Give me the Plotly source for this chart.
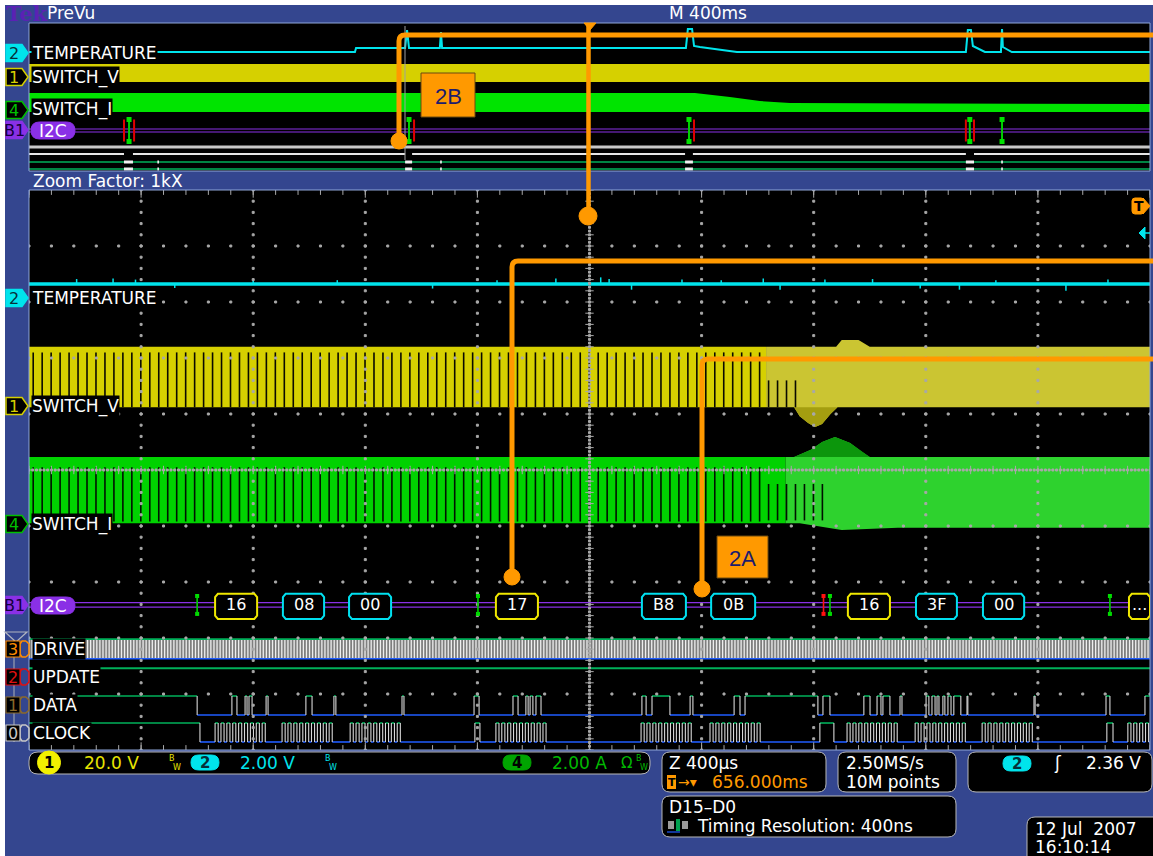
import plotly.graph_objects as go

W, H = 1153, 856
FONT = "DejaVu Sans"
BLUE = "#34468f"
ORANGE = "#ff9900"
CYAN = "#00e4ec"
YELLOW = "#d6d000"
YELLOW_DIM = "#cbc532"
GREEN = "#00d200"
GREEN_DIM = "#2ed22e"
PURPLE = "#8a30e6"
DIG_HI = "#00b05a"
DIG_LO = "#1f5cff"
EDGE = "#d8d8d8"
GRID = "#a8a8a8"

# ---------------- zoomed window: time in us about the zoom centre, level in graticule divisions
TEMP_LEVEL = 8.32
TEMP_SPIKE_US = [-1830, -1700, -1620, -1480, -1200, -900, -560, -330, -120, 40, 70, 150, 330, 470, 620, 680, 840, 1010, 1180, 1320, 1450, 1700, 1850]
TEMP_SPIKE_DIV = [0.09, 0.1, 0.08, -0.07, 0.08, 0.07, -0.08, 0.07, 0.1, 0.12, 0.09, -0.1, 0.08, 0.07, 0.1, -0.1, 0.08, 0.09, -0.08, -0.1, 0.07, -0.12, 0.08]

SV_SPLIT_US = 630
SV_TOP_T = [-2000, 630, 880, 900, 960, 1000, 2000]
SV_TOP = [7.2, 7.2, 7.2, 7.32, 7.32, 7.2, 7.2]
SV_BOT_T = [-2000, 630, 730, 750, 780, 805, 830, 860, 885, 2000]
SV_BOT = [6.12, 6.12, 6.12, 5.96, 5.84, 5.77, 5.82, 6.0, 6.12, 6.12]

SI_SPLIT_US = 700
SI_TOP_T = [-2000, 700, 730, 790, 830, 876, 930, 973, 1000, 2000]
SI_TOP = [5.23, 5.23, 5.23, 5.36, 5.5, 5.59, 5.48, 5.32, 5.23, 5.23]
SI_BOT_T = [-2000, 700, 750, 900, 1100, 2000]
SI_BOT = [4.05, 4.05, 4.05, 3.93, 3.97, 3.97]

SWITCH_PERIOD_US = 32.0
GAP_FULL_END_US = 620
SV_GAP_PART_END_US = 745
SI_GAP_PART_END_US = 860

I2C_LEVEL = 2.59
I2C_BYTES = ["16", "08", "00", "17", "B8", "0B", "16", "3F", "00", "..."]
I2C_BYTE_START_US = [-1336, -1094, -858, -334, 187, 434, 922, 1165, 1404, 1925]
I2C_BYTE_END_US = [-1186, -947, -708, -184, 344, 591, 1072, 1311, 1551, 2000]
I2C_IS_ADDRESS = [True, False, False, True, False, False, True, False, False, True]
I2C_START_US = [-1400, -398, 858, 1857]
I2C_STOP_US = [835]

DRIVE_LO, DRIVE_HI = 1.63, 1.98
DRIVE_HALF_PERIOD_US = 11.0
UPDATE_LEVEL = 1.46
DATA_LO, DATA_HI = 0.625, 0.964
CLOCK_LO, CLOCK_HI = 0.143, 0.482

DATA_RISE_US = [-2000, -1276, -1229, -1215, -1154, -1012, -912, -669, -412, -273, -227, -212, -191, 187, 223, 359, 516, 555, 833, 979, 1026, 1047, 1108, 1201, 1222, 1240, 1261, 1279, 1300, 1347, 1586, 1843, 1982]
DATA_FALL_US = [-1400, -1258, -1222, -1204, -1147, -990, -905, -662, -394, -255, -219, -202, -173, 202, 287, 369, 537, 815, 858, 1001, 1040, 1072, 1115, 1211, 1233, 1247, 1268, 1290, 1325, 1350, 1590, 1857, 2000]

CLOCK_BURST_US = [-1336, -1097, -854, -334, 184, 430, 919, 1162, 1401, 1921]
CLOCK_BITS = 9
CLOCK_PERIOD_US = 21
CLOCK_WIDTH_US = 11
CLOCK_SINGLE_RISE_US = [-2000, -409, 822, 1846]
CLOCK_SINGLE_FALL_US = [-1390, -391, 872, 1868]

# ---------------- record overview (PreVu): time in ms, level in rows above the window floor
PV_TEMP_MS = [0, 1163, 1167, 1342, 1349, 1356, 1466, 1470, 1474, 2344, 2351, 2366, 2373, 2394, 2526, 3343, 3350, 3361, 3368, 3411, 3468, 3472, 3475, 3507, 4000]
PV_TEMP = [119, 119, 123, 123, 141, 123, 123, 139, 123, 123, 142, 142, 125, 124, 119, 119, 141, 141, 125, 119, 119, 142, 124, 119, 119]
PV_SV_TOP, PV_SV_BOT = 107, 89
PV_SI_TOP_MS = [0, 2376, 2501, 2608, 2715, 4000]
PV_SI_TOP = [78, 78, 74, 70, 68, 67]
PV_SI_BOT = 59
PV_I2C_LEVEL = 40.5
PV_I2C_START_MS = [357, 1356, 2355, 3357, 3472]
PV_I2C_STOP_MS = [339, 375, 1374, 2373, 3343, 3372]
PV_PACKET_START_MS = [339, 1342, 2341, 3343]
PV_PACKET_END_MS = [371, 1367, 2369, 3372]
PV_BLIP_MS = [461, 1470, 3472]
PV_DRIVE, PV_UPDATE, PV_DATA, PV_CLOCK = 24, 17, 9, 2

fig = go.Figure()


def line(x, y, color, width, xa="x", ya="y"):
    fig.add_trace(go.Scatter(x=x, y=y, mode="lines", line=dict(color=color, width=width),
                             xaxis=xa, yaxis=ya, hoverinfo="skip"))


def area(x, y, color, xa="x", ya="y"):
    fig.add_trace(go.Scatter(x=x, y=y, mode="lines", fill="toself", fillcolor=color,
                             line=dict(width=0, color=color), xaxis=xa, yaxis=ya, hoverinfo="skip"))


def dots(x, y, symbol="square", size=2, width=1, color=GRID):
    fig.add_trace(go.Scatter(x=x, y=y, mode="markers", hoverinfo="skip",
                             marker=dict(symbol=symbol, size=size, color=color,
                                         line=dict(width=width, color=color))))


def band(t_top, top, t_bot, bot, lo, hi):
    """Polygon of an envelope restricted to lo <= t <= hi."""
    xs = [t for t in t_top if lo <= t <= hi]
    ys = [v for t, v in zip(t_top, top) if lo <= t <= hi]
    xb = [t for t in t_bot if lo <= t <= hi]
    yb = [v for t, v in zip(t_bot, bot) if lo <= t <= hi]
    return xs + xb[::-1] + [xs[0]], ys + yb[::-1] + [ys[0]]


def digital(rises, falls, lo, hi, t0=-2000, t1=2000):
    gx, gy, bx, by, ex, ey = [], [], [], [], [], []
    cur = t0
    for a, b in sorted(zip(rises, falls)):
        a, b = max(a, t0), min(b, t1)
        if a > cur:
            bx += [cur, a, None]; by += [lo, lo, None]
        gx += [a, b, None]; gy += [hi, hi, None]
        if a > t0:
            ex += [a, a, None]; ey += [lo, hi, None]
        if b < t1:
            ex += [b, b, None]; ey += [lo, hi, None]
        cur = b
    if cur < t1:
        bx += [cur, t1, None]; by += [lo, lo, None]
    line(bx, by, DIG_LO, 1.6)
    line(gx, gy, DIG_HI, 1.6)
    line(ex, ey, EDGE, 1.1)


# ================= overview window =================
line(PV_TEMP_MS, PV_TEMP, CYAN, 2, "x2", "y2")
area([0, 4000, 4000, 0, 0], [PV_SV_TOP, PV_SV_TOP, PV_SV_BOT, PV_SV_BOT, PV_SV_TOP], YELLOW, "x2", "y2")
area(PV_SI_TOP_MS + [4000, 0, 0], PV_SI_TOP + [PV_SI_BOT, PV_SI_BOT, PV_SI_TOP[0]], "#00e400", "x2", "y2")
line([0, 4000, None, 0, 4000], [PV_I2C_LEVEL + 1.5, PV_I2C_LEVEL + 1.5, None, PV_I2C_LEVEL - 1.5, PV_I2C_LEVEL - 1.5], PURPLE, 1.2, "x2", "y2")
sx, sy = [], []
for t in PV_I2C_START_MS:
    sx += [t, t, None]; sy += [PV_I2C_LEVEL - 11, PV_I2C_LEVEL + 11, None]
line(sx, sy, "#00d000", 2, "x2", "y2")
rx, ry = [], []
for t in PV_I2C_STOP_MS:
    rx += [t, t, None]; ry += [PV_I2C_LEVEL - 11, PV_I2C_LEVEL + 11, None]
line(rx, ry, "#e00000", 2, "x2", "y2")
fig.add_trace(go.Scatter(x=[t for t in PV_I2C_START_MS for _ in (0, 1)],
                         y=[PV_I2C_LEVEL + s for _ in PV_I2C_START_MS for s in (-11, 11)],
                         mode="markers", xaxis="x2", yaxis="y2", hoverinfo="skip",
                         marker=dict(symbol="square", size=5, color="#00e000")))
line([0, 4000], [PV_DRIVE, PV_DRIVE], "#c8c8c8", 3, "x2", "y2")
ux, uy = [], []
cur = 0
for a, b in zip(PV_PACKET_START_MS, PV_PACKET_END_MS):
    ux += [cur, a, None]; uy += [PV_UPDATE, PV_UPDATE, None]
    cur = b
ux += [cur, 4000]; uy += [PV_UPDATE, PV_UPDATE]
line(ux, uy, "#e6e6e6", 2, "x2", "y2")
line([0, 4000], [PV_DATA, PV_DATA], DIG_HI, 1.6, "x2", "y2")
line([0, 4000], [PV_CLOCK, PV_CLOCK], DIG_HI, 1.6, "x2", "y2")
wx, wy = [], []
for a, b in zip(PV_PACKET_START_MS, PV_PACKET_END_MS):
    for lvl in (PV_DATA, PV_CLOCK):
        wx += [a, b, None]; wy += [lvl, lvl, None]
for t in PV_BLIP_MS:
    for lvl in (PV_DATA, PV_CLOCK):
        wx += [t - 3, t + 3, None]; wy += [lvl, lvl, None]
line(wx, wy, "#f0f0f0", 3, "x2", "y2")

# ================= zoomed window =================
# temperature (channel 2)
line([-2000, 2000], [TEMP_LEVEL, TEMP_LEVEL], CYAN, 3.5)
kx, ky = [], []
for t, d in zip(TEMP_SPIKE_US, TEMP_SPIKE_DIV):
    kx += [t, t, None]; ky += [TEMP_LEVEL, TEMP_LEVEL + d, None]
line(kx, ky, CYAN, 1.5)

# switch voltage (channel 1)
x, y = band(SV_TOP_T, SV_TOP, SV_BOT_T, SV_BOT, -2000, SV_SPLIT_US)
area(x, y, YELLOW)
x, y = band(SV_TOP_T, SV_TOP, SV_BOT_T, SV_BOT, SV_SPLIT_US, 2000)
area(x, y, YELLOW_DIM)
dip_t = [t for t, v in zip(SV_BOT_T, SV_BOT) if 730 <= t <= 885]
dip_v = [v for t, v in zip(SV_BOT_T, SV_BOT) if 730 <= t <= 885]
area(dip_t + dip_t[::-1], dip_v + [SV_BOT[0]] * len(dip_t), "#a49e10")

# switch current (channel 4)
x, y = band(SI_TOP_T, SI_TOP, SI_BOT_T, SI_BOT, -2000, SI_SPLIT_US)
area(x, y, GREEN)
x, y = band(SI_TOP_T, SI_TOP, SI_BOT_T, SI_BOT, SI_SPLIT_US, 2000)
area(x, y, GREEN_DIM)
bump_t = [t for t, v in zip(SI_TOP_T, SI_TOP) if 730 <= t <= 1000]
bump_v = [v for t, v in zip(SI_TOP_T, SI_TOP) if 730 <= t <= 1000]
area(bump_t + bump_t[::-1], bump_v + [SI_TOP[0]] * len(bump_t), "#0c960c")

# switching notches
gvx, gvy, gix, giy = [], [], [], []
t = -1985.0
while t <= SI_GAP_PART_END_US:
    if t <= GAP_FULL_END_US:
        gvx += [t, t, None]; gvy += [SV_BOT[0], SV_TOP[0] - 0.1, None]
        gix += [t, t, None]; giy += [SI_BOT[0] + 0.03, SI_TOP[0] - 0.18, None]
    else:
        if t <= SV_GAP_PART_END_US:
            gvx += [t, t, None]; gvy += [SV_BOT[0], 6.6, None]
        gix += [t, t, None]; giy += [SI_BOT[0] + 0.05, 4.75, None]
    t += SWITCH_PERIOD_US
line(gvx, gvy, "#0a0a00", 1.6)
line(gix, giy, "#001200", 1.6)

# I2C bus decode (B1)
line([-2000, 2000, None, -2000, 2000], [I2C_LEVEL + 0.04, I2C_LEVEL + 0.04, None, I2C_LEVEL - 0.04, I2C_LEVEL - 0.04], PURPLE, 1.3)

# digital channels
dx, dy = [], []
t = -2000.0
while t < 2000:
    dx += [t, t, None]; dy += [DRIVE_LO, DRIVE_HI, None]
    t += DRIVE_HALF_PERIOD_US
area([-2000, 2000, 2000, -2000, -2000], [DRIVE_LO, DRIVE_LO, DRIVE_HI, DRIVE_HI, DRIVE_LO], "#7e7e7e")
line(dx, dy, "#eeeeee", 1.3)
line([-2000, 2000], [DRIVE_HI, DRIVE_HI], DIG_HI, 1.6)
line([-2000, 2000], [DRIVE_LO, DRIVE_LO], DIG_LO, 1.6)
line([-2000, 2000], [UPDATE_LEVEL, UPDATE_LEVEL], DIG_HI, 1.8)
digital(DATA_RISE_US, DATA_FALL_US, DATA_LO, DATA_HI)
c_r, c_f = list(CLOCK_SINGLE_RISE_US), list(CLOCK_SINGLE_FALL_US)
for b in CLOCK_BURST_US:
    for k in range(CLOCK_BITS):
        c_r.append(b + k * CLOCK_PERIOD_US)
        c_f.append(b + k * CLOCK_PERIOD_US + CLOCK_WIDTH_US)
digital(c_r, c_f, CLOCK_LO, CLOCK_HI)

# graticule (drawn over the traces, as on the instrument)
gx, gy = [], []
for k in range(1, 10):
    if k == 5:
        continue
    for j in range(51):
        gx.append((k - 5) * 400); gy.append(j * 0.2)
for m in range(1, 10):
    if m == 5:
        continue
    for i in range(51):
        gx.append((i * 0.2 - 5) * 400); gy.append(m)
for j in range(151):
    gx.append(0); gy.append(j / 15)
for i in range(301):
    gx.append((i / 30 - 5) * 400); gy.append(5)
dots(gx, gy)
dots([0] * 51, [j * 0.2 for j in range(51)], symbol="line-ew", size=6)
dots([(i * 0.2 - 5) * 400 for i in range(51)], [5] * 51, symbol="line-ns", size=6)
dots([(i * 0.2 - 5) * 400 for i in range(51)] * 2, [10] * 51 + [0] * 51, symbol="line-ns", size=7)
dots([(k - 5) * 400 for k in range(11)] * 2, [10] * 11 + [0] * 11, symbol="line-ns", size=11)

# ================= layout, shapes and text =================
shapes, ann = [], []


def P(xp, yp):
    return f"{xp / W:.5f},{1 - yp / H:.5f}"


def rrect(x0, y0, x1, y1, r, fill="black", edge="#b8b8b8", width=1):
    path = (f"M {P(x0 + r, y0)} L {P(x1 - r, y0)} Q {P(x1, y0)} {P(x1, y0 + r)} "
            f"L {P(x1, y1 - r)} Q {P(x1, y1)} {P(x1 - r, y1)} L {P(x0 + r, y1)} "
            f"Q {P(x0, y1)} {P(x0, y1 - r)} L {P(x0, y0 + r)} Q {P(x0, y0)} {P(x0 + r, y0)} Z")
    shapes.append(dict(type="path", path=path, xref="paper", yref="paper", fillcolor=fill,
                       line=dict(color=edge, width=width), layer="above"))


def prect(x0, y0, x1, y1, fill, edge=None, width=0, layer="above"):
    shapes.append(dict(type="rect", xref="paper", yref="paper", x0=x0 / W, x1=x1 / W,
                       y0=1 - y1 / H, y1=1 - y0 / H, fillcolor=fill,
                       line=dict(color=edge or fill, width=width), layer=layer))


def pline(pts, color, width):
    path = "M " + " L ".join(P(a, b) for a, b in pts)
    shapes.append(dict(type="path", path=path, xref="paper", yref="paper",
                       line=dict(color=color, width=width), layer="above"))


def pcircle(cx, cy, r, fill, edge=None):
    shapes.append(dict(type="circle", xref="paper", yref="paper", x0=(cx - r) / W, x1=(cx + r) / W,
                       y0=1 - (cy + r) / H, y1=1 - (cy - r) / H, fillcolor=fill,
                       line=dict(color=edge or fill, width=1), layer="above"))


def ppoly(pts, fill, edge=None, width=1):
    path = "M " + " L ".join(P(a, b) for a, b in pts) + " Z"
    shapes.append(dict(type="path", path=path, xref="paper", yref="paper", fillcolor=fill,
                       line=dict(color=edge or fill, width=width), layer="above"))


def text(xp, yp, s, color="white", size=17, anchor="left", bg=None, family=FONT):
    a = dict(x=xp / W, y=1 - yp / H, xref="paper", yref="paper", text=s, showarrow=False,
             xanchor=anchor, yanchor="middle", font=dict(color=color, size=size, family=family))
    if bg:
        a.update(bgcolor=bg, borderpad=0)
    ann.append(a)


# white frame edge and window borders
prect(0, 0, W, 5, "white", layer="below")
prect(0, 0, 5, H, "white", layer="below")
prect(29, 23, 1150, 171, "rgba(0,0,0,0)", "#8fa6d8", 1)
prect(29, 190, 1150, 750, "rgba(0,0,0,0)", "#8fa6d8", 1)

# title strip
text(4, 14, "<b>Tek</b>", "#5a22b4", 21, family="DejaVu Serif")
text(45, 13, "PreVu", "white", 17)
text(667, 13, "M 400ms", "white", 17)
text(31, 181, "Zoom Factor: 1kX", "white", 17)

# channel tags on the left edge
def tag(yc, label, fill, fg, edge, h=17):
    ppoly([(6, yc - h / 2), (22, yc - h / 2), (28, yc), (22, yc + h / 2), (6, yc + h / 2)], fill, edge, 1.5)
    text(14, yc + 0.5, label, fg, 16, anchor="center")


for yc in (53, 298):
    tag(yc, "2", CYAN, "#06303a", CYAN)
for yc in (77, 406):
    tag(yc, "1", "black", YELLOW, YELLOW)
for yc in (110, 524):
    tag(yc, "4", "black", "#00c000", "#00c000")
for yc in (130, 605):
    tag(yc, "B1", PURPLE, "#14003c", PURPLE)


def dtag(yc, label, col):
    pline([(26, yc - 8), (22, yc - 8), (20, yc - 5), (20, yc + 5), (22, yc + 8), (26, yc + 8)], col, 1.5)
    pline([(26, yc - 8), (29, yc - 5), (29, yc + 5), (26, yc + 8)], col, 1.5)
    prect(6, yc - 8, 20, yc + 8, "black", col, 1.2)
    text(13, yc + 0.5, label, col, 16, anchor="center")


pline([(14, 640), (14, 742)], "#9aa0b0", 1.2)
ppoly([(5, 632), (27, 632), (16, 642)], "rgba(0,0,0,0)", "#b0b4c0", 1.2)
dtag(649, "3", "#ff8c00")
dtag(677, "2", "#e01010")
dtag(705, "1", "#8c6a2a")
dtag(733, "0", "#c8c8c8")

# trace labels
for yp, s in ((53, "TEMPERATURE"), (77, "SWITCH_V"), (110, "SWITCH_I"),
              (298, "TEMPERATURE"), (406, "SWITCH_V"), (524, "SWITCH_I")):
    text(31, yp, s, "white", 17, bg="black")
for yp, s in ((649, "DRIVE"), (677, "UPDATE"), (705, "DATA"), (733, "CLOCK")):
    text(32, yp, s, "white", 17, bg="black")
for yc in (130.5, 605.5):
    rrect(31, yc - 8.5, 75, yc + 8.5, 8.5, PURPLE, PURPLE)
    text(53, yc + 0.5, "I2C", "white", 17, anchor="center")

# I2C decode boxes and start/stop marks (data coordinates)
BEV_T, BEV_Y = 10.0, 0.06
BOX_TOP, BOX_BOT = 2.79, 2.34
for s, a, b, is_addr in zip(I2C_BYTES, I2C_BYTE_START_US, I2C_BYTE_END_US, I2C_IS_ADDRESS):
    path = (f"M {a + BEV_T},{BOX_TOP} L {b - BEV_T},{BOX_TOP} L {b},{BOX_TOP - BEV_Y} L {b},{BOX_BOT + BEV_Y} "
            f"L {b - BEV_T},{BOX_BOT} L {a + BEV_T},{BOX_BOT} L {a},{BOX_BOT + BEV_Y} L {a},{BOX_TOP - BEV_Y} Z")
    shapes.append(dict(type="path", path=path, xref="x", yref="y", fillcolor="black",
                       line=dict(color="#f0e800" if is_addr else "#00e0f0", width=2), layer="above"))
    ann.append(dict(x=(a + b) / 2, y=I2C_LEVEL, xref="x", yref="y", text=s, showarrow=False,
                    font=dict(color="white", size=16, family=FONT)))
for t in I2C_START_US:
    shapes.append(dict(type="line", xref="x", yref="y", x0=t, x1=t, y0=2.43, y1=2.75,
                       line=dict(color="#00d000", width=1.6), layer="above"))
for t in I2C_STOP_US:
    shapes.append(dict(type="line", xref="x", yref="y", x0=t, x1=t, y0=2.43, y1=2.75,
                       line=dict(color="#ff1010", width=1.6), layer="above"))
fig.add_trace(go.Scatter(x=[t for t in I2C_START_US + I2C_STOP_US for _ in (0, 1)],
                         y=[v for _ in I2C_START_US + I2C_STOP_US for v in (2.43, 2.75)],
                         mode="markers", hoverinfo="skip",
                         marker=dict(symbol="square", size=4,
                                     color=["#00e000"] * (2 * len(I2C_START_US)) + ["#ff1010"] * (2 * len(I2C_STOP_US)))))

# cursor line in the overview and zoom-position marker
pline([(405, 26), (405, 160)], "#a0a0a0", 1)
ppoly([(584, 23), (596, 23), (590, 30)], ORANGE)
pline([(588.5, 23), (588.5, 212)], ORANGE, 4.5)
pcircle(588, 216, 9, ORANGE)

# callouts
def callout(xv, ybot, ytop, r=8):
    path = (f"M {P(xv, ybot)} L {P(xv, ytop + 6)} Q {P(xv, ytop)} {P(xv + 6, ytop)} L {P(1153, ytop)}")
    shapes.append(dict(type="path", path=path, xref="paper", yref="paper",
                       line=dict(color=ORANGE, width=5), layer="above"))
    pcircle(xv, ybot, r, ORANGE)


callout(399, 141, 35)
callout(512, 577, 261)
callout(702, 589, 359)
prect(421, 73, 475, 117, ORANGE, "#6a4a10", 1)
text(448, 96, "2B", "#1c1c6e", 22, anchor="center", family="Liberation Sans")
prect(717, 536, 768, 578, ORANGE, "#6a4a10", 1)
text(742.5, 558, "2A", "#1c1c6e", 22, anchor="center", family="Liberation Sans")

# trigger markers at right edge of zoom window
rrect(1132, 198, 1144, 214, 3, ORANGE, ORANGE)
ppoly([(1143, 198), (1150, 206), (1143, 214)], ORANGE)
text(1139, 206.5, "<b>T</b>", "black", 14, anchor="center")
ppoly([(1139, 233), (1145, 227), (1145, 239)], CYAN)
pline([(1145, 233), (1150, 233)], CYAN, 1.5)

# status readouts
rrect(29, 752, 650, 774, 9)
pcircle(49, 762.5, 11.5, "#f2f000")
text(49, 763, "<b>1</b>", "black", 15, anchor="center")
text(82, 763, "20.0 V", "#e8e400", 17)
text(167, 758, "B", "#e8e400", 8)
text(171, 767, "W", "#e8e400", 8)
rrect(191, 755, 219, 770, 7.5, CYAN, CYAN)
text(205, 763, "<b>2</b>", "#06303a", 15, anchor="center")
text(238, 763, "2.00 V", CYAN, 17)
text(323, 758, "B", CYAN, 8)
text(327, 767, "W", CYAN, 8)
rrect(503, 755, 531, 770, 7.5, "#00a400", "#00a400")
text(517, 763, "<b>4</b>", "black", 15, anchor="center")
text(550, 763, "2.00 A", "#00b800", 17)
text(619, 763, "Ω", "#00b800", 15)
text(634, 758, "B", "#00b800", 8)
text(638, 767, "W", "#00b800", 8)

rrect(662, 752, 826, 792, 8)
text(667, 763, "Z 400µs", "white", 17)
prect(667, 775, 676, 789, ORANGE)
text(671.5, 782.5, "<b>T</b>", "black", 11, anchor="center")
text(676, 782, "→▾", ORANGE, 14)
text(710, 782, "656.000ms", ORANGE, 17)

rrect(838, 752, 956, 792, 8)
text(844, 763, "2.50MS/s", "white", 17)
text(844, 782, "10M points", "white", 17)

rrect(968, 752, 1152, 792, 8)
rrect(1003, 756, 1031, 771, 7.5, CYAN, CYAN)
text(1017, 763.5, "<b>2</b>", "#06303a", 15, anchor="center")
text(1058, 763, "ʃ", "white", 17, anchor="center")
text(1143, 763, "2.36 V", "white", 17, anchor="right")

rrect(662, 796, 956, 837, 8)
text(667, 807, "D15–D0", "white", 17)
prect(668, 821, 674, 829, "#9a9a9a")
prect(676, 819, 680, 831, "#00a050")
prect(682, 821, 688, 829, "#9a9a9a")
pline([(667, 832), (680, 832)], DIG_LO, 1.2)
text(695, 826, "Timing Resolution: 400ns", "white", 17)

rrect(1027, 817, 1162, 880, 8)
text(1033, 829, "12 Jul  2007", "white", 17)
text(1033, 847, "16:10:14", "white", 17)

fig.update_layout(
    width=W, height=H, margin=dict(l=0, r=0, t=0, b=0),
    paper_bgcolor=BLUE, plot_bgcolor="black", showlegend=False,
    font=dict(family=FONT),
    xaxis=dict(domain=[29 / W, 1150 / W], range=[-2000, 2000], visible=False, fixedrange=True),
    yaxis=dict(domain=[1 - 750 / H, 1 - 190 / H], range=[0, 10], visible=False, fixedrange=True),
    xaxis2=dict(domain=[29 / W, 1150 / W], range=[0, 4000], visible=False, anchor="y2", fixedrange=True),
    yaxis2=dict(domain=[1 - 171 / H, 1 - 23 / H], range=[0, 148], visible=False, anchor="x2", fixedrange=True),
    shapes=shapes, annotations=ann,
)

fig.write_html("out.html")
